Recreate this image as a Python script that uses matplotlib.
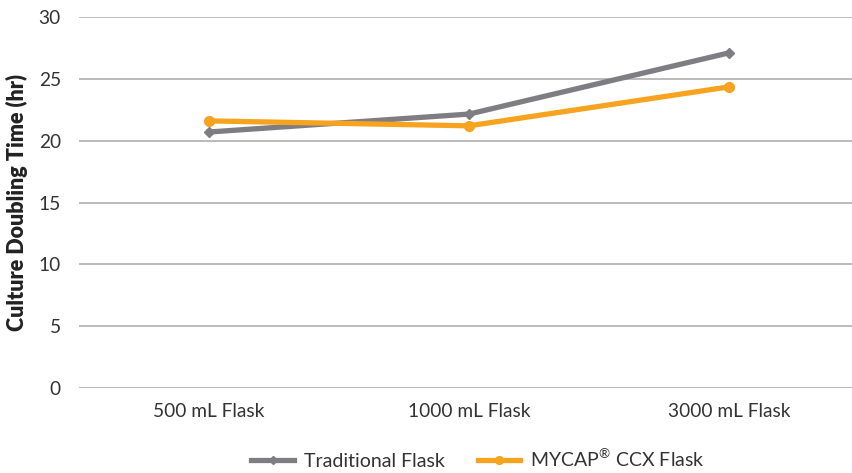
import numpy as np
import matplotlib.pyplot as plt

# values
categories = ['500 mL Flask', '1000 mL Flask', '3000 mL Flask']
traditional = [20.7, 22.15, 27.1]
mycap = [21.6, 21.2, 24.35]
yticks = [0, 5, 10, 15, 20, 25, 30]

plt.rcParams['font.family'] = ['Lato', 'DejaVu Sans']
plt.rcParams['mathtext.fontset'] = 'custom'
plt.rcParams['mathtext.rm'] = 'Lato'

fig = plt.figure(figsize=(8.52, 4.73), dpi=100)
# axes run a bit past the right edge of the figure, as in the reference
ax = fig.add_axes([79/852, 1 - 388/473, 780/852, 371/473])

x = np.arange(len(categories))
ax.plot(x, traditional, color='#7e7e82', lw=3.8, marker='D', markersize=5,
        label='Traditional Flask', zorder=3)
ax.plot(x, mycap, color='#f6a31f', lw=3.8, marker='o', markersize=7,
        label=r'MYCAP$^{\mathrm{®}}$ CCX Flask', zorder=4)

ax.set_xlim(-0.5, 2.5)
ax.set_ylim(0, 30)
ax.set_yticks(yticks)
ax.set_xticks(x)
ax.set_xticklabels(categories)
ax.yaxis.grid(True, color='#b5b5b5', lw=1.3)
ax.set_axisbelow(True)
for s in ax.spines.values():
    s.set_visible(False)
ax.tick_params(axis='both', length=0, labelsize=13.8, colors='#333333')
ax.tick_params(axis='y', pad=13)
ax.tick_params(axis='x', pad=11)
ax.set_ylabel('Culture Doubling Time (hr)', fontsize=15.5, fontweight='heavy',
              color='#222222', labelpad=8)

leg = fig.legend(loc='center', bbox_to_anchor=(478/852, 1 - 459/473), ncol=2,
                 frameon=False, fontsize=14, handlelength=2.2, columnspacing=1.7,
                 handletextpad=0.5, labelcolor='#333333', markerscale=0.8)

fig.savefig('out.png', dpi=100)
